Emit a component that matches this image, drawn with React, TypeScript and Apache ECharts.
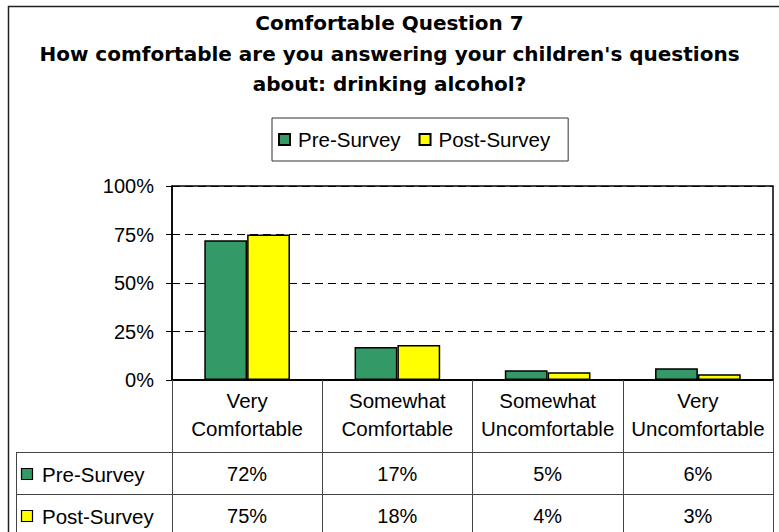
import React, { useEffect, useRef } from "react";
import * as echarts from "echarts";

const categories = ["Very\nComfortable", "Somewhat\nComfortable", "Somewhat\nUncomfortable", "Very\nUncomfortable"];
const seriesNames = ["Pre-Survey", "Post-Survey"];
const preSurvey = [72, 17, 5, 6];
const postSurvey = [75, 18, 4, 3];
const yTicks = [0, 25, 50, 75, 100];
const titleLines = [
  "Comfortable Question 7",
  "How comfortable are you answering your children's questions",
  "about: drinking alcohol?",
];

const FONT = "'Liberation Sans', Arial, sans-serif";
const TITLE_FONT = "'DejaVu Sans', 'Liberation Sans', Arial, sans-serif";
const COLORS = ["#339966", "#FFFF00"];

export default function App() {
  const ref = useRef<HTMLDivElement>(null);
  useEffect(() => {
    if (!ref.current) return;
    const chart = echarts.init(ref.current, null, { renderer: "svg" });
    const W = 779;
    const gridLeft = 172;
    const gridRight = 773;
    const gridTop = 186;
    const gridBottom = 380;
    const colW = (gridRight - gridLeft) / categories.length;
    const rowTops = [452, 494];
    const rowH = 42;
    const data = [preSurvey, postSurvey];

    const graphics: any[] = [];
    // outer chart frame
    graphics.push({
      type: "polyline",
      shape: { points: [[8.5, 560], [8.5, 6.5], [790, 6.5]] },
      style: { stroke: "#222", lineWidth: 1.5, fill: null },
      z: 10,
    });
    // table lines
    rowTops.forEach((y) => {
      graphics.push({
        type: "line",
        shape: { x1: 16, y1: y + 0.5, x2: gridRight, y2: y + 0.5 },
        style: { stroke: "#444", lineWidth: 1 },
      });
    });
    graphics.push({
      type: "line",
      shape: { x1: 16.5, y1: rowTops[0], x2: 16.5, y2: 560 },
      style: { stroke: "#444", lineWidth: 1 },
    });
    seriesNames.forEach((name, r) => {
      const cy = rowTops[r] + rowH / 2 + 1;
      graphics.push({
        type: "rect",
        shape: { x: 21.5, y: cy - 5.5, width: 11, height: 11 },
        style: { fill: COLORS[r], stroke: "#000", lineWidth: 1.2 },
      });
      graphics.push({
        type: "text",
        x: 42,
        y: cy,
        style: {
          text: name,
          font: `20.5px ${FONT}`,
          fill: "#000",
          verticalAlign: "middle",
          textAlign: "left",
        },
      });
      data[r].forEach((v, c) => {
        graphics.push({
          type: "text",
          x: gridLeft + colW * (c + 0.5),
          y: cy,
          style: {
            text: v + "%",
            font: `20px ${FONT}`,
            fill: "#000",
            verticalAlign: "middle",
            textAlign: "center",
          },
        });
      });
    });

    chart.setOption({
      animation: false,
      backgroundColor: "#fff",
      title: {
        text: titleLines.join("\n"),
        left: "center",
        top: 3,
        textStyle: {
          fontFamily: TITLE_FONT,
          fontSize: 20,
          fontWeight: "bold",
          lineHeight: 30.5,
          color: "#000",
        },
      },
      legend: {
        data: seriesNames,
        left: 272,
        top: 118,
        orient: "horizontal",
        padding: [11, 18, 11, 6],
        itemGap: 18,
        itemWidth: 17,
        itemHeight: 11,
        icon: "path://M0,0H10V10H0Z",
        borderColor: "#333",
        borderWidth: 1,
        textStyle: { fontFamily: FONT, fontSize: 20.5, color: "#000" },
      },
      grid: {
        left: gridLeft,
        right: W - gridRight,
        top: gridTop,
        bottom: 532 - gridBottom,
        show: true,
        borderColor: "#000",
        borderWidth: 1.5,
      },
      xAxis: {
        type: "category",
        data: categories,
        axisLine: { lineStyle: { color: "#000", width: 2 } },
        axisTick: {
          show: true,
          interval: 0,
          length: 160,
          lineStyle: { color: "#444", width: 1 },
        },
        axisLabel: {
          interval: 0,
          margin: 6,
          fontFamily: FONT,
          fontSize: 20.5,
          lineHeight: 28,
          color: "#000",
        },
      },
      yAxis: {
        type: "value",
        min: 0,
        max: 100,
        interval: 25,
        axisLine: { show: true, lineStyle: { color: "#000", width: 1.5 } },
        axisTick: { show: true, length: 6, lineStyle: { color: "#000" } },
        axisLabel: {
          formatter: (v: number) => (yTicks.includes(v) ? v + "%" : ""),
          margin: 18,
          fontFamily: FONT,
          fontSize: 20,
          color: "#000",
        },
        splitLine: {
          show: true,
          lineStyle: { color: "#000", type: [8, 5], width: 1 },
        },
      },
      series: seriesNames.map((name, i) => ({
        name,
        type: "bar",
        data: data[i],
        barGap: "0%",
        barCategoryGap: "43%",
        itemStyle: { color: COLORS[i], borderColor: "#000", borderWidth: 1.5 },
      })),
      graphic: graphics,
    });
    return () => chart.dispose();
  }, []);
  return (
    <div
      ref={ref}
      style={{ position: "absolute", left: 0, top: 0, width: 779, height: 532 }}
    />
  );
}
